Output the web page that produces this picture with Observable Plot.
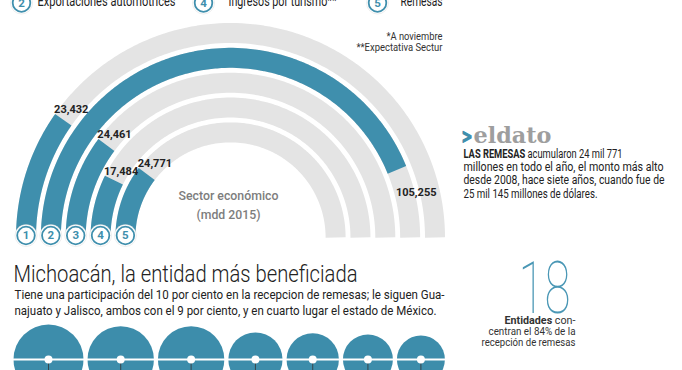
<!DOCTYPE html>
<html><head><meta charset="utf-8">
<script src="https://cdn.jsdelivr.net/npm/d3@7"></script>
<script src="https://cdn.jsdelivr.net/npm/@observablehq/plot@0.6"></script>
<style>
html,body{margin:0;padding:0;background:#fff;overflow:hidden;}
#chart svg{display:block;}
</style></head><body><div id="chart"></div>
<script>
// ---------- data ----------
const sectorNums = [1, 2, 3, 4, 5];
const sectorValues = [23432, 105255, 24461, 17484, 24771];
const sectorValueLabels = ["23,432", "105,255", "24,461", "17,484", "24,771"];
const arcScaleMax = 120000;
const legendNums = [2, 4, 5];
const legendNames = ["Exportaciones automotrices", "Ingresos por turismo**", "Remesas"];
const notesLines = ["*A noviembre", "**Expectativa Sectur"];
const centerLines = ["Sector económico", "(mdd 2015)"];
const stateShares = [10, 9, 9, 6, 5.6, 5.1, 4.7];
const titleText = "Michoacán, la entidad más beneficiada";
const subtitleLines = [
  "Tiene una participación del 10 por ciento en la recepcion de remesas; le siguen Gua-",
  "najuato y Jalisco, ambos con el 9 por ciento, y en cuarto lugar el estado de México."
];
const datoHead = [">", "eldato"];
const datoLines = [
  "LAS REMESAS acumularon 24 mil 771",
  "millones en todo el año, el monto más alto",
  "desde 2008, hace siete años, cuando fue de",
  "25 mil 145 millones de dólares."
];
const bigNumber = "18";
const bigNumberLines = ["Entidades con-", "centran el 84% de la", "recepción de remesas"];

// ---------- layout / style ----------
const W = 682, H = 370;
const TEAL = "#3f8fad", GRAY = "#e4e4e4", INK = "#222";
const SANS = "Roboto, sans-serif";
const cx = 230, cy = 237, rFirst = 204.5, step = 24.85, trackW = 20;
const ang = d3.scaleLinear().domain([0, arcScaleMax]).range([Math.PI, 0]);

// rendered widths of the condensed newspaper type (style only)
const fitWidths = new Map([
  ["Exportaciones automotrices", 138], ["Ingresos por turismo**", 108], ["Remesas", 42],
  ["*A noviembre", 56], ["**Expectativa Sectur", 86],
  ["Sector económico", 100], ["(mdd 2015)", 64],
  ["Michoacán, la entidad más beneficiada", 344],
  [subtitleLines[0], 430], [subtitleLines[1], 422],
  [datoLines[0], 159], [datoLines[1], 200], [datoLines[2], 201], [datoLines[3], 134],
  ["18", 52], ["eldato", 78], [">", 11],
  [bigNumberLines[0], 71], [bigNumberLines[1], 87], [bigNumberLines[2], 94]
]);

const tracks = sectorNums.map((n, i) => ({n, v: sectorValues[i], label: sectorValueLabels[i], r: rFirst - step * i}));
function arcPoints(t, aEnd) {
  const N = 120;
  return d3.range(N + 1).map(k => {
    const a = Math.PI + (aEnd - Math.PI) * k / N;
    return {n: t.n, x: cx + t.r * Math.cos(a), y: cy - t.r * Math.sin(a)};
  });
}
const bgPts = tracks.flatMap(t => arcPoints(t, 0));
const fgPts = tracks.flatMap(t => arcPoints(t, ang(t.v)));
const valueLabels = tracks.map(t => {
  const a = ang(t.v);
  if (a > Math.PI / 2) {
    const ro = t.r + trackW / 2;
    return {label: t.label, x: cx + ro * Math.cos(a) - 1, y: cy - ro * Math.sin(a) - 1};
  } else {
    return {label: t.label, x: cx + t.r * Math.cos(a) - 1, y: cy - t.r * Math.sin(a) + 26};
  }
});
const trackBadges = tracks.map(t => ({n: String(t.n), x: cx - t.r, y: 235}));
const legendCircleX = [21, 203, 377], legendTextX = [37, 228, 400];
const legendBadges = legendNums.map((n, i) => ({n: String(n), x: legendCircleX[i], y: 2.5}));
const legendTexts = legendNames.map((s, i) => ({s, x: legendTextX[i], y: 5.5}));
const badges = trackBadges.concat(legendBadges);

const rScale = d3.scaleSqrt().domain([0, 10]).range([0, 35]);
const bubbleY = 359, bubbleGap = 4;
let xCursor = 13;
const bubbles = stateShares.map(v => {
  const r = rScale(v);
  const b = {v, x: xCursor + r, y: bubbleY};
  xCursor += 2 * r + bubbleGap;
  return b;
});

const lines = (arr, x, y0, dy) => arr.map((s, i) => ({s, x, y: y0 + i * dy}));
const txt = (data, o) => Plot.text(data, {x: "x", y: "y", text: "s", textAnchor: "start", lineAnchor: "bottom", fontFamily: SANS, fill: INK, ...o});

const chart = Plot.plot({
  width: W, height: H, margin: 0,
  x: {domain: [0, W], range: [0, W], axis: null},
  y: {domain: [0, H], range: [0, H], axis: null},
  r: {type: "sqrt", domain: [0, 10], range: [0, 35]},
  style: {background: "#fff", overflow: "hidden"},
  marks: [
    // arcs
    Plot.line(bgPts, {x: "x", y: "y", z: "n", stroke: GRAY, strokeWidth: trackW, strokeLinecap: "butt", strokeLinejoin: "round"}),
    Plot.line(fgPts, {x: "x", y: "y", z: "n", stroke: TEAL, strokeWidth: trackW, strokeLinecap: "butt", strokeLinejoin: "round"}),
    Plot.text(valueLabels, {x: "x", y: "y", text: "label", textAnchor: "start", lineAnchor: "bottom", fontSize: 11, fontWeight: "bold", fontFamily: SANS, fill: INK}),
    // badges
    Plot.dot(badges, {x: "x", y: "y", r: 11, fill: "white", stroke: "#d0d0d0", strokeWidth: 0.6, strokeOpacity: 0.6}),
    Plot.dot(badges, {x: "x", y: "y", r: 8.8, fill: "white", stroke: TEAL, strokeWidth: 1.8}),
    Plot.text(badges, {x: "x", y: "y", text: "n", fill: TEAL, fontSize: 11.5, fontWeight: "bold", fontFamily: SANS, lineAnchor: "middle"}),
    txt(legendTexts, {fontSize: 14}),
    // notes
    txt(lines(notesLines, 442, 39, 11), {textAnchor: "end", fontSize: 10.5, fill: "#333"}),
    // center
    txt(lines(centerLines, 228, 199, 19), {textAnchor: "middle", fontSize: 13, fontWeight: 500, fill: "#7d7d7d"}),
    // el dato
    txt([{s: datoHead[0], x: 461, y: 142}], {fontSize: 19, fontWeight: "bold", fontFamily: "'DejaVu Sans', sans-serif", fill: TEAL, stroke: TEAL, strokeWidth: 1.2}),
    txt([{s: datoHead[1], x: 473, y: 142}], {fontSize: 23, fontWeight: "bold", fontFamily: "'DejaVu Serif', serif", fill: "#9e9e9e"}),
    txt(lines(datoLines, 463, 157, 13.4), {fontSize: 13.2}),
    // title block
    txt([{s: titleText, x: 13, y: 281}], {fontSize: 23, fontWeight: 300}),
    txt(lines(subtitleLines, 14, 298, 16), {fontSize: 13}),
    // big number
    txt([{s: bigNumber, x: 518, y: 312}], {fontSize: 73, fontWeight: 100, fill: "#4a97b5"}),
    txt(lines(bigNumberLines, 575, 323, 11), {textAnchor: "end", fontSize: 11.5, fill: "#333"}),
    // bubbles
    Plot.dot(bubbles, {x: "x", y: "y", r: "v", fill: "#3d8dab", stroke: "none"}),
    Plot.ruleY([bubbleY], {x1: 13, x2: xCursor, stroke: "white", strokeWidth: 2}),
    Plot.ruleX(bubbles, {x: "x", y1: bubbleY + 4, y2: H + 2, stroke: "#333", strokeWidth: 0.8}),
    Plot.dot(bubbles, {x: "x", y: "y", r: 4, fill: "white", stroke: "none"})
  ]
});

// fit condensed type widths
d3.select(chart).selectAll("text").each(function() {
  const el = this.querySelector("tspan") || this;
  const w = fitWidths.get(el.textContent);
  if (w) { el.setAttribute("textLength", w); el.setAttribute("lengthAdjust", "spacingAndGlyphs"); }
});
function boldPrefix(svg, prefix) {
  d3.select(svg).selectAll("text").each(function() {
    const el = this.querySelector("tspan") || this;
    const s = el.textContent;
    if (s.startsWith(prefix)) {
      el.textContent = "";
      const b = document.createElementNS("http://www.w3.org/2000/svg", "tspan");
      b.setAttribute("font-weight", "bold");
      b.textContent = prefix;
      el.appendChild(b);
      el.appendChild(document.createTextNode(s.slice(prefix.length)));
    }
  });
}
boldPrefix(chart, "LAS REMESAS");
boldPrefix(chart, "Entidades");
document.getElementById("chart").appendChild(chart);
</script></body></html>
